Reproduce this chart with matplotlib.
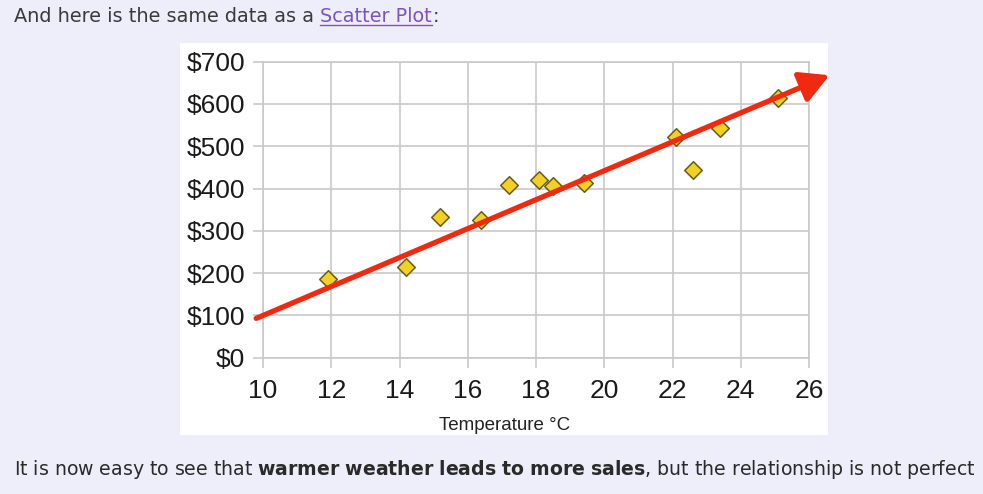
import matplotlib
matplotlib.use("Agg")
from matplotlib import pyplot as plt
from matplotlib.patches import Rectangle
from matplotlib.lines import Line2D

# Ice cream sales vs temperature
temps = [14.2, 16.4, 11.9, 15.2, 18.5, 22.1, 19.4, 25.1, 23.4, 18.1, 22.6, 17.2]
sales = [215, 325, 185, 332, 406, 522, 412, 614, 544, 421, 445, 408]

x_ticks = [10, 12, 14, 16, 18, 20, 22, 24, 26]
y_ticks = [0, 100, 200, 300, 400, 500, 600, 700]
y_tick_labels = ['$' + str(v) for v in y_ticks]

# hand drawn trend arrow (start, end) in data units
trend_x = [9.8, 26.6]
trend_y = [93, 668]

bg = '#eeeefb'
grid_c = '#c9c9c9'

fig = plt.figure(figsize=(9.83, 4.94), dpi=100, facecolor=bg)
W, H = 983, 494

# white panel behind the chart
fig.patches.append(Rectangle((180 / W, 1 - 435 / H), 648 / W, 392 / H,
                             transform=fig.transFigure, facecolor='white',
                             edgecolor='none', zorder=-5))

ax = fig.add_axes([263 / W, 1 - 357.7 / H, 546 / W, 296 / H])
ax.set_facecolor('white')
ax.set_xlim(10, 26)
ax.set_ylim(0, 700)
ax.set_xticks(x_ticks)
ax.set_yticks(y_ticks)
ax.set_yticklabels(y_tick_labels)
ax.grid(True, color=grid_c, linewidth=1.2)
ax.set_axisbelow(True)
for s in ax.spines.values():
    s.set_color(grid_c)
    s.set_linewidth(1.2)
ax.tick_params(axis='both', length=7.5, width=1.2, color=grid_c,
               labelsize=19, labelcolor='#1a1a1a')
ax.tick_params(axis='x', pad=8)
ax.tick_params(axis='y', pad=5.5)
for lbl in ax.get_xticklabels() + ax.get_yticklabels():
    lbl.set_fontfamily('Liberation Sans')

ax.scatter(temps, sales, marker='D', s=80, facecolor='#f2d024',
           edgecolor='#6a5a1c', linewidth=1.1, zorder=3)

ax.annotate('', xy=(trend_x[1], trend_y[1]), xytext=(trend_x[0], trend_y[0]),
            annotation_clip=False, zorder=4,
            arrowprops=dict(arrowstyle='-|>,head_length=1.1,head_width=0.6',
                            color='#f02a10', lw=3.8, mutation_scale=16,
                            shrinkA=0, shrinkB=0))

fig.text(505 / W, 1 - 425 / H, 'Temperature °C', ha='center', va='center',
         fontsize=13.5, family='Liberation Sans', color='#222222')

# top line of page text, with the link part
fig.canvas.draw()
r = fig.canvas.get_renderer()
fs = 13.85
ty = 1 - 22 / H
t1 = fig.text(14 / W, ty, 'And here is the same data as a', fontsize=fs,
              color='#3a3a3a', va='baseline')
sp = fig.text(0, 0, 'a a', fontsize=fs)
sp2 = fig.text(0, 0, 'aa', fontsize=fs)
space_w = sp.get_window_extent(r).width - sp2.get_window_extent(r).width
sp.remove()
sp2.remove()
x1 = t1.get_window_extent(r).x1 + space_w
t2 = fig.text(x1 / W, ty, 'Scatter Plot', fontsize=fs, color='#7a55c0',
              va='baseline')
bb = t2.get_window_extent(r)
fig.lines.append(Line2D([bb.x0 / W, bb.x1 / W], [ty - 3 / H, ty - 3 / H],
                        transform=fig.transFigure, color='#7a55c0', lw=1.0))
fig.text(bb.x1 / W + 1 / W, ty, ':', fontsize=fs, color='#3a3a3a', va='baseline')

plt.rcParams['mathtext.fontset'] = 'dejavusans'
fig.text(14 / W, 1 - 475 / H,
         r'It is now easy to see that $\mathbf{warmer\ weather\ leads\ to\ more\ sales}$'
         ', but the relationship is not perfect',
         fontsize=13.55, color='#2a2a2a', va='baseline')

fig.savefig('out.png', dpi=100, facecolor=bg)
